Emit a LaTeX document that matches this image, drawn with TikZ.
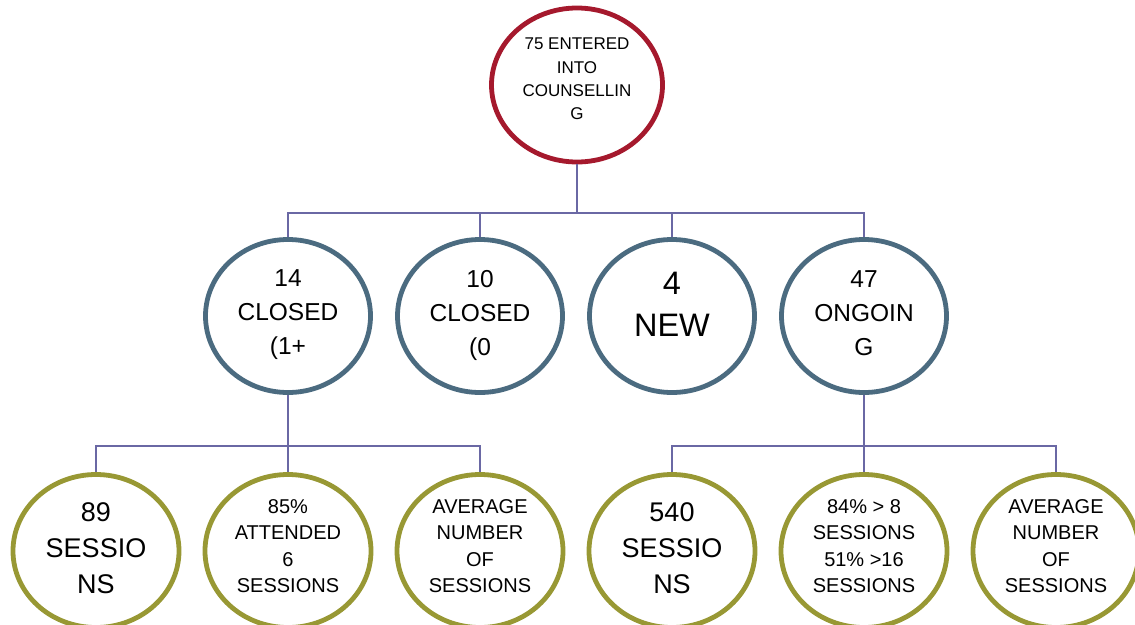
\documentclass[tikz,border=0pt]{standalone}
\usepackage{fontspec}
\setmainfont{Liberation Sans}
\usetikzlibrary{shapes.geometric}
\definecolor{cred}{HTML}{A5192D}
\definecolor{cblue}{HTML}{4B6B80}
\definecolor{colive}{HTML}{989834}
\definecolor{cline}{HTML}{6A68A4}
\begin{document}
\begin{tikzpicture}[x=1pt,y=-1pt,
  circ/.style={ellipse, draw, line width=4.8pt, fill=white, inner sep=0pt},
  topc/.style={circ, draw=cred, minimum width=171pt, minimum height=154pt},
  midc/.style={circ, draw=cblue, minimum width=165pt, minimum height=153pt},
  botc/.style={circ, draw=colive, minimum width=166pt, minimum height=153pt},
  lbl/.style={align=center, inner sep=0pt, text=black},
  toptxt/.style={lbl, font=\fontsize{17}{23.3}\selectfont},
  midtxt/.style={lbl, font=\fontsize{24.5}{34}\selectfont},
  newtxt/.style={lbl, font=\fontsize{32.5}{42}\selectfont},
  bigtxt/.style={lbl, font=\fontsize{27}{36}\selectfont},
  smalltxt/.style={lbl, font=\fontsize{20}{26.5}\selectfont},
  conn/.style={draw=cline, line width=1.5pt}
]
\useasboundingbox (0,0) rectangle (1135,624);
\clip (0,0) rectangle (1135,624);

% circles
\node[topc] (top) at (577,85) {};
\node[midc] (m1) at (288,316) {};
\node[midc] (m2) at (480,316) {};
\node[midc] (m3) at (672,316) {};
\node[midc] (m4) at (864,316) {};
\node[botc] (b1) at (96,551) {};
\node[botc] (b2) at (288,551) {};
\node[botc] (b3) at (480,551) {};
\node[botc] (b4) at (672,551) {};
\node[botc] (b5) at (864,551) {};
\node[botc] (b6) at (1056,551) {};

% connectors
\coordinate (j0) at (577,213);
\coordinate (j1) at (288,446);
\coordinate (j2) at (864,446);
\draw[conn] (top.south) -- (j0);
\draw[conn] (j0) -| (m1.north);
\draw[conn] (j0) -| (m2.north);
\draw[conn] (j0) -| (m3.north);
\draw[conn] (j0) -| (m4.north);
\draw[conn] (m1.south) -- (j1);
\draw[conn] (j1) -| (b1.north);
\draw[conn] (j1) -| (b2.north);
\draw[conn] (j1) -| (b3.north);
\draw[conn] (m4.south) -- (j2);
\draw[conn] (j2) -| (b4.north);
\draw[conn] (j2) -| (b5.north);
\draw[conn] (j2) -| (b6.north);

% texts
\node[toptxt] (ttop) at (577,79) {75 ENTERED\\INTO\\COUNSELLIN\\G};
\node[midtxt] (tm1) at (288,315) {14\\CLOSED\\(1+};
\node[midtxt] (tm2) at (480,315) {10\\CLOSED\\(0};
\node[newtxt] (tm3) at (672,304) {4\\NEW};
\node[midtxt] (tm4) at (864,313) {47\\ONGOIN\\G};
\node[bigtxt] (tb1) at (96,548) {89\\SESSIO\\NS};
\node[smalltxt] (tb2) at (288,546) {85\%\\ATTENDED\\6\\SESSIONS};
\node[smalltxt] (tb3) at (480,546) {AVERAGE\\NUMBER\\OF\\SESSIONS};
\node[bigtxt] (tb4) at (672,548) {540\\SESSIO\\NS};
\node[smalltxt] (tb5) at (864,546) {84\% > 8\\SESSIONS\\51\% >16\\SESSIONS};
\node[smalltxt] (tb6) at (1056,546) {AVERAGE\\NUMBER\\OF\\SESSIONS};
\end{tikzpicture}
\end{document}
